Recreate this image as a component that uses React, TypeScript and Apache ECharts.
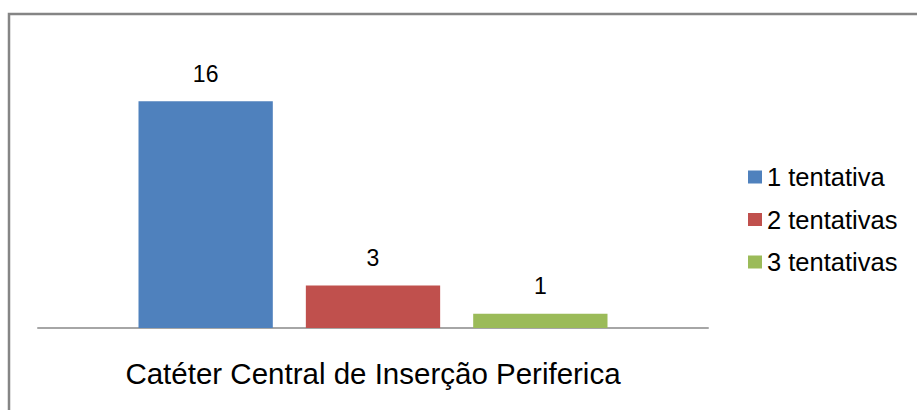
import React, { useEffect, useRef } from "react";
import * as echarts from "echarts";

const categories = ["Catéter Central de Inserção Periferica"];
const seriesNames = ["1 tentativa", "2 tentativas", "3 tentativas"];
const seriesValues = [[16], [3], [1]];
const colors = ["#4F81BD", "#C0504D", "#9BBB59"];

export default function App() {
  const ref = useRef<HTMLDivElement>(null);
  useEffect(() => {
    document.body.style.margin = "0";
    const chart = echarts.init(ref.current!, null, { renderer: "svg" });
    chart.setOption({
      animation: false,
      backgroundColor: "#ffffff",
      textStyle: { fontFamily: "Liberation Sans, Arial, sans-serif" },
      grid: { left: 38, right: 209, top: 73, bottom: 82, containLabel: false },
      xAxis: {
        type: "category",
        data: categories,
        axisLine: { lineStyle: { color: "#a6a6a6", width: 2 } },
        axisTick: { show: false },
        axisLabel: { fontSize: 29.5, color: "#000000", margin: 30, fontFamily: "Liberation Sans, Arial, sans-serif" },
      },
      yAxis: {
        type: "value",
        min: 0,
        max: 18,
        show: false,
        splitLine: { show: false },
      },
      legend: {
        orient: "vertical",
        left: 748,
        top: 163,
        padding: 0,
        itemWidth: 14,
        itemHeight: 13,
        itemGap: 14.5,
        icon: "rect",
        data: seriesNames,
        textStyle: { fontSize: 25.5, color: "#000000", padding: [0, 0, 0, 0], lineHeight: 28, fontFamily: "Liberation Sans, Arial, sans-serif" },
      },
      graphic: [
        {
          type: "rect",
          shape: { x: 9, y: 14, width: 1000, height: 500 },
          style: { fill: "none", stroke: "#858585", lineWidth: 2.5 },
          silent: true,
        },
      ],
      series: seriesNames.map((name, i) => ({
        name,
        type: "bar",
        data: seriesValues[i],
        itemStyle: { color: colors[i] },
        barGap: "24.6%",
        barCategoryGap: "30%",
        label: {
          show: true,
          position: "top",
          distance: 16,
          fontSize: 23,
          color: "#000000",
          fontFamily: "Liberation Sans, Arial, sans-serif",
        },
      })),
    });
    return () => chart.dispose();
  }, []);
  return <div ref={ref} style={{ width: 917, height: 410 }} />;
}
